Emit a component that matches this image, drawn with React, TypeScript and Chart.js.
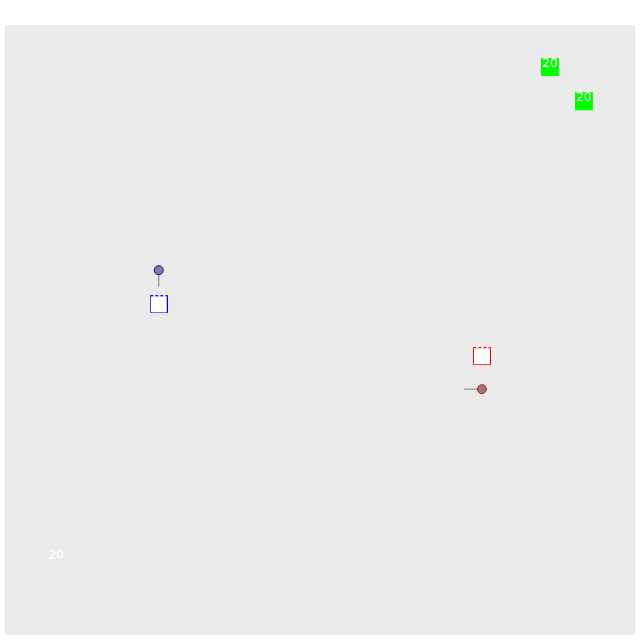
import React, { useEffect, useRef } from "react";
import { Chart, registerables } from "chart.js";

Chart.register(...registerables);

// Data (x/y in abstract units 0..10)
const greenX = [8.65, 9.19];
const greenY = [9.31, 8.75];
const greenLabels = ["20", "20"];

const circleX = [2.44, 7.57];
const circleY = [5.98, 4.03];
const circleColors = ["#0000ff", "#ff0000"];

const boxX = [2.44, 7.57];
const boxY = [5.42, 4.57];
const boxColors = ["#0000ff", "#ff0000"];

const segBlueX = [2.44, 2.44];
const segBlueY = [5.7, 5.98];
const segRedX = [7.29, 7.57];
const segRedY = [4.03, 4.03];

const freeTextX = [0.81];
const freeTextY = [1.32];
const freeTextLabels = ["20"];

function makeBox(color: string): HTMLCanvasElement {
  const c = document.createElement("canvas");
  c.width = 18;
  c.height = 18;
  const ctx = c.getContext("2d")!;
  ctx.fillStyle = "#ffffff";
  ctx.fillRect(0, 0, 18, 18);
  ctx.strokeStyle = color;
  ctx.lineWidth = 1;
  ctx.beginPath();
  ctx.moveTo(0.5, 0.5);
  ctx.lineTo(0.5, 17.5);
  ctx.lineTo(17.5, 17.5);
  ctx.lineTo(17.5, 0.5);
  ctx.stroke();
  ctx.setLineDash([3, 2]);
  ctx.beginPath();
  ctx.moveTo(0.5, 0.5);
  ctx.lineTo(17.5, 0.5);
  ctx.stroke();
  return c;
}

const bgPlugin = {
  id: "bgPanel",
  beforeDraw(chart: any) {
    const { ctx, chartArea } = chart;
    ctx.save();
    ctx.fillStyle = "#ebebeb";
    ctx.fillRect(chartArea.left, chartArea.top, chartArea.right - chartArea.left, chartArea.bottom - chartArea.top);
    ctx.restore();
  },
};

const labelPlugin = {
  id: "labels",
  afterDatasetsDraw(chart: any) {
    const ctx = chart.ctx;
    ctx.save();
    ctx.fillStyle = "#ffffff";
    ctx.textAlign = "center";
    ctx.textBaseline = "alphabetic";
    chart.data.datasets.forEach((ds: any, i: number) => {
      if (!ds.textLabels) return;
      const meta = chart.getDatasetMeta(i);
      ctx.font = ds.textFont;
      meta.data.forEach((el: any, j: number) => {
        ctx.fillText(ds.textLabels[j], el.x, el.y + ds.textDy);
      });
    });
    ctx.restore();
  },
};

export default function App() {
  const ref = useRef<HTMLCanvasElement>(null);
  useEffect(() => {
    const boxes = boxColors.map(makeBox);
    const chart = new Chart(ref.current!, {
      type: "scatter",
      data: {
        datasets: [
          {
            label: "green",
            data: greenX.map((x, i) => ({ x, y: greenY[i] })),
            pointStyle: "rect",
            pointRadius: 12.728,
            pointBackgroundColor: "#00ff00",
            pointBorderWidth: 0,
            order: 3,
            textLabels: greenLabels,
            textFont: "12px 'DejaVu Sans'",
            textDy: -0.5,
          } as any,
          {
            label: "circles",
            data: circleX.map((x, i) => ({ x, y: circleY[i] })),
            pointStyle: "circle",
            pointRadius: 4.5,
            pointBackgroundColor: "#808080",
            pointBorderColor: circleColors,
            pointBorderWidth: 1,
            order: 1,
          },
          {
            label: "boxes",
            data: boxX.map((x, i) => ({ x, y: boxY[i] })),
            pointStyle: boxes as any,
            pointRadius: 9,
            order: 2,
          },
          {
            label: "segBlue",
            type: "line",
            data: segBlueX.map((x, i) => ({ x, y: segBlueY[i] })),
            borderColor: "#808080",
            borderWidth: 1,
            pointRadius: 0,
            showLine: true,
            order: 5,
          } as any,
          {
            label: "segRed",
            type: "line",
            data: segRedX.map((x, i) => ({ x, y: segRedY[i] })),
            borderColor: "#808080",
            borderWidth: 1,
            pointRadius: 0,
            showLine: true,
            order: 5,
          } as any,
          {
            label: "text",
            data: freeTextX.map((x, i) => ({ x, y: freeTextY[i] })),
            pointRadius: 0,
            order: 0,
            textLabels: freeTextLabels,
            textFont: "12px 'DejaVu Sans'",
            textDy: 4.5,
          } as any,
        ],
      },
      options: {
        animation: false,
        responsive: false,
        layout: { autoPadding: false, padding: { left: 5, top: 25, right: 5, bottom: 5 } },
        plugins: { legend: { display: false }, tooltip: { enabled: false } },
        events: [],
        scales: {
          x: { type: "linear", min: 0, max: 10, display: false },
          y: { type: "linear", min: 0, max: 10, display: false },
        },
      },
      plugins: [bgPlugin, labelPlugin],
    });
    return () => chart.destroy();
  }, []);
  return (
    <div style={{ position: "absolute", left: 0, top: 0, width: 640, height: 640 }}>
      <canvas ref={ref} width={640} height={640} style={{ display: "block" }} />
    </div>
  );
}
